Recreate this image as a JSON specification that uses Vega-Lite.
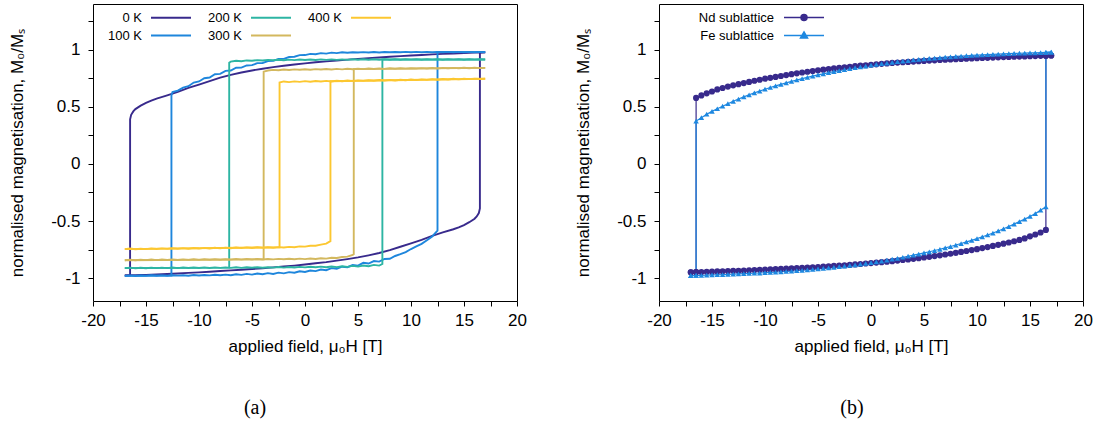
{
  "$schema": "https://vega.github.io/schema/vega-lite/v6.json",
  "background": "white",
  "padding": {"left": 8, "right": 5, "top": 3, "bottom": 0},
  "spacing": 47,
  "resolve": {
    "scale": {"color": "independent"},
    "legend": {"color": "independent"}
  },
  "config": {
    "font": "Liberation Sans",
    "view": {"stroke": "#000000", "strokeWidth": 1},
    "axis": {
      "domain": false, "grid": false, "ticks": true,
      "tickColor": "#000000", "tickSize": 5, "tickWidth": 1,
      "labelFont": "Liberation Sans", "labelFontSize": 17, "labelColor": "#000000",
      "labelFlush": false, "labelOverlap": false, "labelBound": false,
      "titleFont": "Liberation Sans", "titleFontSize": 17, "titleFontWeight": "normal", "titleColor": "#000000"
    },
    "axisX": {"labelPadding": 6, "titlePadding": 10},
    "axisY": {"labelPadding": 8, "titlePadding": 24},
    "legend": {"labelFont": "Liberation Sans", "labelFontSize": 13, "labelColor": "#000000", "padding": 0}
  },
  "datasets": {
    "loops": [
      {"T":"0 K","H":-17,"u":-0.977,"l":-0.977},
      {"T":"0 K","H":-16.501,"u":-0.975},
      {"T":"0 K","H":-16.5,"u":0.39,"l":-0.975},
      {"T":"0 K","H":-16.4,"u":0.43,"l":-0.975},
      {"T":"0 K","H":-16.2,"u":0.46,"l":-0.975},
      {"T":"0 K","H":-16,"u":0.48,"l":-0.974},
      {"T":"0 K","H":-15.5,"u":0.51,"l":-0.972},
      {"T":"0 K","H":-15,"u":0.535,"l":-0.971},
      {"T":"0 K","H":-14.5,"u":0.555,"l":-0.969},
      {"T":"0 K","H":-14,"u":0.572,"l":-0.967},
      {"T":"0 K","H":-13,"u":0.6,"l":-0.963},
      {"T":"0 K","H":-12,"u":0.63,"l":-0.959},
      {"T":"0 K","H":-11,"u":0.665,"l":-0.954},
      {"T":"0 K","H":-10,"u":0.695,"l":-0.949},
      {"T":"0 K","H":-9,"u":0.725,"l":-0.944},
      {"T":"0 K","H":-8,"u":0.755,"l":-0.938},
      {"T":"0 K","H":-7,"u":0.78,"l":-0.932},
      {"T":"0 K","H":-6,"u":0.8,"l":-0.926},
      {"T":"0 K","H":-5,"u":0.818,"l":-0.92},
      {"T":"0 K","H":-4,"u":0.833,"l":-0.913},
      {"T":"0 K","H":-3,"u":0.847,"l":-0.906},
      {"T":"0 K","H":-2,"u":0.86,"l":-0.898},
      {"T":"0 K","H":-1,"u":0.87,"l":-0.89},
      {"T":"0 K","H":0,"u":0.88,"l":-0.88},
      {"T":"0 K","H":1,"u":0.89,"l":-0.87},
      {"T":"0 K","H":2,"u":0.898,"l":-0.86},
      {"T":"0 K","H":3,"u":0.906,"l":-0.847},
      {"T":"0 K","H":4,"u":0.913,"l":-0.833},
      {"T":"0 K","H":5,"u":0.92,"l":-0.818},
      {"T":"0 K","H":6,"u":0.926,"l":-0.8},
      {"T":"0 K","H":7,"u":0.932,"l":-0.78},
      {"T":"0 K","H":8,"u":0.938,"l":-0.755},
      {"T":"0 K","H":9,"u":0.944,"l":-0.725},
      {"T":"0 K","H":10,"u":0.949,"l":-0.695},
      {"T":"0 K","H":11,"u":0.954,"l":-0.665},
      {"T":"0 K","H":12,"u":0.959,"l":-0.63},
      {"T":"0 K","H":13,"u":0.963,"l":-0.6},
      {"T":"0 K","H":14,"u":0.967,"l":-0.572},
      {"T":"0 K","H":14.5,"u":0.969,"l":-0.555},
      {"T":"0 K","H":15,"u":0.971,"l":-0.535},
      {"T":"0 K","H":15.5,"u":0.972,"l":-0.51},
      {"T":"0 K","H":16,"u":0.974,"l":-0.48},
      {"T":"0 K","H":16.2,"u":0.975,"l":-0.46},
      {"T":"0 K","H":16.4,"u":0.975,"l":-0.43},
      {"T":"0 K","H":16.5,"u":0.975,"l":-0.39},
      {"T":"0 K","H":16.501,"l":0.975},
      {"T":"0 K","H":17,"u":0.977,"l":0.977},

      {"T":"100 K","H":-17,"u":-0.98,"l":-0.98},
      {"T":"100 K","H":-16.5,"l":-0.976},
      {"T":"100 K","H":-16,"l":-0.981},
      {"T":"100 K","H":-15.5,"l":-0.977},
      {"T":"100 K","H":-15,"l":-0.98},
      {"T":"100 K","H":-14.5,"l":-0.975},
      {"T":"100 K","H":-14,"l":-0.979},
      {"T":"100 K","H":-13.5,"l":-0.976},
      {"T":"100 K","H":-13,"l":-0.98},
      {"T":"100 K","H":-12.601,"u":-0.977},
      {"T":"100 K","H":-12.6,"u":0.6},
      {"T":"100 K","H":-12.5,"u":0.63,"l":-0.975},
      {"T":"100 K","H":-12,"u":0.642,"l":-0.978},
      {"T":"100 K","H":-11.5,"u":0.668,"l":-0.974},
      {"T":"100 K","H":-11,"u":0.68,"l":-0.979},
      {"T":"100 K","H":-10.5,"u":0.712,"l":-0.973},
      {"T":"100 K","H":-10,"u":0.722,"l":-0.977},
      {"T":"100 K","H":-9.5,"u":0.75,"l":-0.972},
      {"T":"100 K","H":-9,"u":0.756,"l":-0.976},
      {"T":"100 K","H":-8.5,"u":0.785,"l":-0.97},
      {"T":"100 K","H":-8,"u":0.788,"l":-0.975},
      {"T":"100 K","H":-7.5,"u":0.815,"l":-0.969},
      {"T":"100 K","H":-7,"u":0.818,"l":-0.974},
      {"T":"100 K","H":-6.5,"u":0.842,"l":-0.966},
      {"T":"100 K","H":-6,"u":0.843,"l":-0.971},
      {"T":"100 K","H":-5.5,"u":0.862,"l":-0.963},
      {"T":"100 K","H":-5,"u":0.865,"l":-0.969},
      {"T":"100 K","H":-4.5,"u":0.882,"l":-0.96},
      {"T":"100 K","H":-4,"u":0.884,"l":-0.966},
      {"T":"100 K","H":-3.5,"u":0.9,"l":-0.956},
      {"T":"100 K","H":-3,"u":0.902,"l":-0.963},
      {"T":"100 K","H":-2.5,"u":0.918,"l":-0.952},
      {"T":"100 K","H":-2,"u":0.92,"l":-0.958},
      {"T":"100 K","H":-1.5,"u":0.936,"l":-0.947},
      {"T":"100 K","H":-1,"u":0.938,"l":-0.953},
      {"T":"100 K","H":-0.5,"u":0.952,"l":-0.94},
      {"T":"100 K","H":0,"u":0.953,"l":-0.946},
      {"T":"100 K","H":0.5,"u":0.963,"l":-0.933},
      {"T":"100 K","H":1,"u":0.96,"l":-0.938},
      {"T":"100 K","H":1.5,"u":0.97,"l":-0.924},
      {"T":"100 K","H":2,"u":0.966,"l":-0.93},
      {"T":"100 K","H":2.5,"u":0.974,"l":-0.912},
      {"T":"100 K","H":3,"u":0.97,"l":-0.918},
      {"T":"100 K","H":3.5,"u":0.977,"l":-0.9},
      {"T":"100 K","H":4,"u":0.973,"l":-0.904},
      {"T":"100 K","H":4.5,"u":0.978,"l":-0.885},
      {"T":"100 K","H":5,"u":0.975,"l":-0.89},
      {"T":"100 K","H":5.5,"u":0.979,"l":-0.866},
      {"T":"100 K","H":6,"u":0.976,"l":-0.872},
      {"T":"100 K","H":6.5,"u":0.98,"l":-0.85},
      {"T":"100 K","H":7,"u":0.976,"l":-0.855},
      {"T":"100 K","H":7.5,"u":0.98,"l":-0.832},
      {"T":"100 K","H":8,"u":0.977,"l":-0.83},
      {"T":"100 K","H":8.5,"u":0.98,"l":-0.806},
      {"T":"100 K","H":9,"u":0.977,"l":-0.79},
      {"T":"100 K","H":9.5,"u":0.981,"l":-0.772},
      {"T":"100 K","H":10,"u":0.977,"l":-0.745},
      {"T":"100 K","H":10.5,"u":0.981,"l":-0.722},
      {"T":"100 K","H":11,"u":0.978,"l":-0.7},
      {"T":"100 K","H":11.5,"u":0.981,"l":-0.668},
      {"T":"100 K","H":12,"u":0.978,"l":-0.635},
      {"T":"100 K","H":12.5,"u":0.981,"l":-0.585},
      {"T":"100 K","H":12.501,"l":0.981},
      {"T":"100 K","H":13,"u":0.978},
      {"T":"100 K","H":13.5,"u":0.981},
      {"T":"100 K","H":14,"u":0.978},
      {"T":"100 K","H":14.5,"u":0.981},
      {"T":"100 K","H":15,"u":0.978},
      {"T":"100 K","H":15.5,"u":0.981},
      {"T":"100 K","H":16,"u":0.978},
      {"T":"100 K","H":16.5,"u":0.981},
      {"T":"100 K","H":17,"u":0.979,"l":0.979},

      {"T":"200 K","H":-17,"u":-0.912,"l":-0.912},
      {"T":"200 K","H":-16.5,"l":-0.908},
      {"T":"200 K","H":-16,"l":-0.913},
      {"T":"200 K","H":-15.5,"l":-0.909},
      {"T":"200 K","H":-15,"l":-0.913},
      {"T":"200 K","H":-14.5,"l":-0.908},
      {"T":"200 K","H":-14,"l":-0.912},
      {"T":"200 K","H":-13.5,"l":-0.908},
      {"T":"200 K","H":-13,"l":-0.912},
      {"T":"200 K","H":-12.5,"l":-0.907},
      {"T":"200 K","H":-12,"l":-0.912},
      {"T":"200 K","H":-11.5,"l":-0.907},
      {"T":"200 K","H":-11,"l":-0.911},
      {"T":"200 K","H":-10.5,"l":-0.907},
      {"T":"200 K","H":-10,"l":-0.911},
      {"T":"200 K","H":-9.5,"l":-0.906},
      {"T":"200 K","H":-9,"l":-0.911},
      {"T":"200 K","H":-8.5,"l":-0.906},
      {"T":"200 K","H":-8,"l":-0.91},
      {"T":"200 K","H":-7.5,"l":-0.906},
      {"T":"200 K","H":-7.151,"u":-0.908},
      {"T":"200 K","H":-7.15,"u":0.885},
      {"T":"200 K","H":-7,"u":0.896,"l":-0.91},
      {"T":"200 K","H":-6.5,"u":0.903,"l":-0.905},
      {"T":"200 K","H":-6,"u":0.899,"l":-0.91},
      {"T":"200 K","H":-5.5,"u":0.906,"l":-0.905},
      {"T":"200 K","H":-5,"u":0.903,"l":-0.909},
      {"T":"200 K","H":-4.5,"u":0.909,"l":-0.904},
      {"T":"200 K","H":-4,"u":0.905,"l":-0.909},
      {"T":"200 K","H":-3.5,"u":0.911,"l":-0.904},
      {"T":"200 K","H":-3,"u":0.907,"l":-0.908},
      {"T":"200 K","H":-2.5,"u":0.912,"l":-0.903},
      {"T":"200 K","H":-2,"u":0.908,"l":-0.908},
      {"T":"200 K","H":-1.5,"u":0.913,"l":-0.902},
      {"T":"200 K","H":-1,"u":0.909,"l":-0.907},
      {"T":"200 K","H":-0.5,"u":0.914,"l":-0.901},
      {"T":"200 K","H":0,"u":0.91,"l":-0.906},
      {"T":"200 K","H":0.5,"u":0.914,"l":-0.9},
      {"T":"200 K","H":1,"u":0.91,"l":-0.905},
      {"T":"200 K","H":1.5,"u":0.915,"l":-0.899},
      {"T":"200 K","H":2,"u":0.911,"l":-0.904},
      {"T":"200 K","H":2.5,"u":0.915,"l":-0.898},
      {"T":"200 K","H":3,"u":0.911,"l":-0.903},
      {"T":"200 K","H":3.5,"u":0.915,"l":-0.896},
      {"T":"200 K","H":4,"u":0.911,"l":-0.901},
      {"T":"200 K","H":4.5,"u":0.916,"l":-0.893},
      {"T":"200 K","H":5,"u":0.912,"l":-0.899},
      {"T":"200 K","H":5.5,"u":0.916,"l":-0.889},
      {"T":"200 K","H":6,"u":0.912,"l":-0.896},
      {"T":"200 K","H":6.5,"u":0.916,"l":-0.884},
      {"T":"200 K","H":7,"u":0.912,"l":-0.89},
      {"T":"200 K","H":7.3,"l":-0.876},
      {"T":"200 K","H":7.301,"l":0.914},
      {"T":"200 K","H":7.5,"u":0.916},
      {"T":"200 K","H":8,"u":0.912},
      {"T":"200 K","H":8.5,"u":0.916},
      {"T":"200 K","H":9,"u":0.912},
      {"T":"200 K","H":9.5,"u":0.916},
      {"T":"200 K","H":10,"u":0.913},
      {"T":"200 K","H":10.5,"u":0.916},
      {"T":"200 K","H":11,"u":0.912},
      {"T":"200 K","H":11.5,"u":0.916},
      {"T":"200 K","H":12,"u":0.913},
      {"T":"200 K","H":12.5,"u":0.916},
      {"T":"200 K","H":13,"u":0.912},
      {"T":"200 K","H":13.5,"u":0.916},
      {"T":"200 K","H":14,"u":0.913},
      {"T":"200 K","H":14.5,"u":0.916},
      {"T":"200 K","H":15,"u":0.912},
      {"T":"200 K","H":15.5,"u":0.916},
      {"T":"200 K","H":16,"u":0.913},
      {"T":"200 K","H":16.5,"u":0.916},
      {"T":"200 K","H":17,"u":0.914,"l":0.914},

      {"T":"300 K","H":-17,"u":-0.843,"l":-0.843},
      {"T":"300 K","H":-16.5,"l":-0.838},
      {"T":"300 K","H":-16,"l":-0.843},
      {"T":"300 K","H":-15.5,"l":-0.838},
      {"T":"300 K","H":-15,"l":-0.842},
      {"T":"300 K","H":-14.5,"l":-0.837},
      {"T":"300 K","H":-14,"l":-0.842},
      {"T":"300 K","H":-13.5,"l":-0.837},
      {"T":"300 K","H":-13,"l":-0.841},
      {"T":"300 K","H":-12.5,"l":-0.836},
      {"T":"300 K","H":-12,"l":-0.841},
      {"T":"300 K","H":-11.5,"l":-0.836},
      {"T":"300 K","H":-11,"l":-0.84},
      {"T":"300 K","H":-10.5,"l":-0.835},
      {"T":"300 K","H":-10,"l":-0.84},
      {"T":"300 K","H":-9.5,"l":-0.835},
      {"T":"300 K","H":-9,"l":-0.839},
      {"T":"300 K","H":-8.5,"l":-0.834},
      {"T":"300 K","H":-8,"l":-0.839},
      {"T":"300 K","H":-7.5,"l":-0.834},
      {"T":"300 K","H":-7,"l":-0.838},
      {"T":"300 K","H":-6.5,"l":-0.833},
      {"T":"300 K","H":-6,"l":-0.838},
      {"T":"300 K","H":-5.5,"l":-0.833},
      {"T":"300 K","H":-5,"l":-0.837},
      {"T":"300 K","H":-4.5,"l":-0.832},
      {"T":"300 K","H":-4,"l":-0.837},
      {"T":"300 K","H":-3.901,"u":-0.835},
      {"T":"300 K","H":-3.9,"u":0.808},
      {"T":"300 K","H":-3.5,"u":0.818,"l":-0.832},
      {"T":"300 K","H":-3,"u":0.823,"l":-0.836},
      {"T":"300 K","H":-2.5,"u":0.82,"l":-0.831},
      {"T":"300 K","H":-2,"u":0.826,"l":-0.835},
      {"T":"300 K","H":-1.5,"u":0.822,"l":-0.83},
      {"T":"300 K","H":-1,"u":0.828,"l":-0.834},
      {"T":"300 K","H":-0.5,"u":0.824,"l":-0.829},
      {"T":"300 K","H":0,"u":0.829,"l":-0.833},
      {"T":"300 K","H":0.5,"u":0.825,"l":-0.828},
      {"T":"300 K","H":1,"u":0.83,"l":-0.832},
      {"T":"300 K","H":1.5,"u":0.826,"l":-0.826},
      {"T":"300 K","H":2,"u":0.831,"l":-0.829},
      {"T":"300 K","H":2.5,"u":0.827,"l":-0.822},
      {"T":"300 K","H":3,"u":0.832,"l":-0.824},
      {"T":"300 K","H":3.5,"u":0.828,"l":-0.815},
      {"T":"300 K","H":4,"u":0.833,"l":-0.812},
      {"T":"300 K","H":4.5,"u":0.829,"l":-0.797},
      {"T":"300 K","H":4.6,"l":-0.79},
      {"T":"300 K","H":4.601,"l":0.83},
      {"T":"300 K","H":5,"u":0.834},
      {"T":"300 K","H":5.5,"u":0.83},
      {"T":"300 K","H":6,"u":0.835},
      {"T":"300 K","H":6.5,"u":0.831},
      {"T":"300 K","H":7,"u":0.836},
      {"T":"300 K","H":7.5,"u":0.832},
      {"T":"300 K","H":8,"u":0.837},
      {"T":"300 K","H":8.5,"u":0.833},
      {"T":"300 K","H":9,"u":0.838},
      {"T":"300 K","H":9.5,"u":0.834},
      {"T":"300 K","H":10,"u":0.838},
      {"T":"300 K","H":10.5,"u":0.835},
      {"T":"300 K","H":11,"u":0.839},
      {"T":"300 K","H":11.5,"u":0.835},
      {"T":"300 K","H":12,"u":0.84},
      {"T":"300 K","H":12.5,"u":0.836},
      {"T":"300 K","H":13,"u":0.841},
      {"T":"300 K","H":13.5,"u":0.837},
      {"T":"300 K","H":14,"u":0.841},
      {"T":"300 K","H":14.5,"u":0.838},
      {"T":"300 K","H":15,"u":0.842},
      {"T":"300 K","H":15.5,"u":0.838},
      {"T":"300 K","H":16,"u":0.843},
      {"T":"300 K","H":16.5,"u":0.839},
      {"T":"300 K","H":17,"u":0.841,"l":0.841},

      {"T":"400 K","H":-17,"u":-0.746,"l":-0.746},
      {"T":"400 K","H":-16.5,"l":-0.741},
      {"T":"400 K","H":-16,"l":-0.747},
      {"T":"400 K","H":-15.5,"l":-0.742},
      {"T":"400 K","H":-15,"l":-0.746},
      {"T":"400 K","H":-14.5,"l":-0.74},
      {"T":"400 K","H":-14,"l":-0.745},
      {"T":"400 K","H":-13.5,"l":-0.739},
      {"T":"400 K","H":-13,"l":-0.744},
      {"T":"400 K","H":-12.5,"l":-0.738},
      {"T":"400 K","H":-12,"l":-0.743},
      {"T":"400 K","H":-11.5,"l":-0.737},
      {"T":"400 K","H":-11,"l":-0.742},
      {"T":"400 K","H":-10.5,"l":-0.736},
      {"T":"400 K","H":-10,"l":-0.741},
      {"T":"400 K","H":-9.5,"l":-0.735},
      {"T":"400 K","H":-9,"l":-0.74},
      {"T":"400 K","H":-8.5,"l":-0.734},
      {"T":"400 K","H":-8,"l":-0.739},
      {"T":"400 K","H":-7.5,"l":-0.733},
      {"T":"400 K","H":-7,"l":-0.738},
      {"T":"400 K","H":-6.5,"l":-0.732},
      {"T":"400 K","H":-6,"l":-0.737},
      {"T":"400 K","H":-5.5,"l":-0.731},
      {"T":"400 K","H":-5,"l":-0.736},
      {"T":"400 K","H":-4.5,"l":-0.73},
      {"T":"400 K","H":-4,"l":-0.735},
      {"T":"400 K","H":-3.5,"l":-0.729},
      {"T":"400 K","H":-3,"l":-0.734},
      {"T":"400 K","H":-2.5,"l":-0.728},
      {"T":"400 K","H":-2.401,"u":-0.729},
      {"T":"400 K","H":-2.4,"u":0.712},
      {"T":"400 K","H":-2,"u":0.722,"l":-0.732},
      {"T":"400 K","H":-1.5,"u":0.716,"l":-0.726},
      {"T":"400 K","H":-1,"u":0.723,"l":-0.729},
      {"T":"400 K","H":-0.5,"u":0.718,"l":-0.722},
      {"T":"400 K","H":0,"u":0.725,"l":-0.724},
      {"T":"400 K","H":0.5,"u":0.72,"l":-0.716},
      {"T":"400 K","H":1,"u":0.726,"l":-0.716},
      {"T":"400 K","H":1.5,"u":0.721,"l":-0.706},
      {"T":"400 K","H":2,"u":0.727,"l":-0.698},
      {"T":"400 K","H":2.4,"l":-0.676},
      {"T":"400 K","H":2.401,"l":0.724},
      {"T":"400 K","H":2.5,"u":0.722},
      {"T":"400 K","H":3,"u":0.729},
      {"T":"400 K","H":3.5,"u":0.724},
      {"T":"400 K","H":4,"u":0.73},
      {"T":"400 K","H":4.5,"u":0.725},
      {"T":"400 K","H":5,"u":0.731},
      {"T":"400 K","H":5.5,"u":0.727},
      {"T":"400 K","H":6,"u":0.733},
      {"T":"400 K","H":6.5,"u":0.728},
      {"T":"400 K","H":7,"u":0.734},
      {"T":"400 K","H":7.5,"u":0.73},
      {"T":"400 K","H":8,"u":0.736},
      {"T":"400 K","H":8.5,"u":0.731},
      {"T":"400 K","H":9,"u":0.737},
      {"T":"400 K","H":9.5,"u":0.733},
      {"T":"400 K","H":10,"u":0.739},
      {"T":"400 K","H":10.5,"u":0.734},
      {"T":"400 K","H":11,"u":0.74},
      {"T":"400 K","H":11.5,"u":0.736},
      {"T":"400 K","H":12,"u":0.742},
      {"T":"400 K","H":12.5,"u":0.737},
      {"T":"400 K","H":13,"u":0.743},
      {"T":"400 K","H":13.5,"u":0.739},
      {"T":"400 K","H":14,"u":0.745},
      {"T":"400 K","H":14.5,"u":0.74},
      {"T":"400 K","H":15,"u":0.746},
      {"T":"400 K","H":15.5,"u":0.742},
      {"T":"400 K","H":16,"u":0.747},
      {"T":"400 K","H":16.5,"u":0.743},
      {"T":"400 K","H":17,"u":0.746,"l":0.746}
    ],
    "lattice": [
      {"s":"Nd sublattice","H":-17,"u":-0.949,"l":-0.949},
      {"s":"Nd sublattice","H":-16.501,"u":-0.947},
      {"s":"Nd sublattice","H":-16.5,"u":0.578,"l":-0.947},
      {"s":"Nd sublattice","H":-16,"u":0.6,"l":-0.946},
      {"s":"Nd sublattice","H":-15.5,"u":0.618,"l":-0.944},
      {"s":"Nd sublattice","H":-15,"u":0.634,"l":-0.943},
      {"s":"Nd sublattice","H":-14.5,"u":0.652,"l":-0.941},
      {"s":"Nd sublattice","H":-14,"u":0.665,"l":-0.94},
      {"s":"Nd sublattice","H":-13.5,"u":0.677,"l":-0.938},
      {"s":"Nd sublattice","H":-13,"u":0.688,"l":-0.936},
      {"s":"Nd sublattice","H":-12.5,"u":0.698,"l":-0.935},
      {"s":"Nd sublattice","H":-12,"u":0.708,"l":-0.933},
      {"s":"Nd sublattice","H":-11.5,"u":0.718,"l":-0.931},
      {"s":"Nd sublattice","H":-11,"u":0.728,"l":-0.929},
      {"s":"Nd sublattice","H":-10.5,"u":0.737,"l":-0.927},
      {"s":"Nd sublattice","H":-10,"u":0.746,"l":-0.925},
      {"s":"Nd sublattice","H":-9.5,"u":0.754,"l":-0.923},
      {"s":"Nd sublattice","H":-9,"u":0.762,"l":-0.921},
      {"s":"Nd sublattice","H":-8.5,"u":0.77,"l":-0.919},
      {"s":"Nd sublattice","H":-8,"u":0.778,"l":-0.917},
      {"s":"Nd sublattice","H":-7.5,"u":0.786,"l":-0.915},
      {"s":"Nd sublattice","H":-7,"u":0.793,"l":-0.912},
      {"s":"Nd sublattice","H":-6.5,"u":0.8,"l":-0.91},
      {"s":"Nd sublattice","H":-6,"u":0.807,"l":-0.907},
      {"s":"Nd sublattice","H":-5.5,"u":0.813,"l":-0.905},
      {"s":"Nd sublattice","H":-5,"u":0.819,"l":-0.902},
      {"s":"Nd sublattice","H":-4.5,"u":0.825,"l":-0.899},
      {"s":"Nd sublattice","H":-4,"u":0.831,"l":-0.896},
      {"s":"Nd sublattice","H":-3.5,"u":0.836,"l":-0.893},
      {"s":"Nd sublattice","H":-3,"u":0.841,"l":-0.89},
      {"s":"Nd sublattice","H":-2.5,"u":0.846,"l":-0.887},
      {"s":"Nd sublattice","H":-2,"u":0.851,"l":-0.884},
      {"s":"Nd sublattice","H":-1.5,"u":0.856,"l":-0.88},
      {"s":"Nd sublattice","H":-1,"u":0.86,"l":-0.876},
      {"s":"Nd sublattice","H":-0.5,"u":0.864,"l":-0.872},
      {"s":"Nd sublattice","H":0,"u":0.868,"l":-0.868},
      {"s":"Nd sublattice","H":0.5,"u":0.872,"l":-0.864},
      {"s":"Nd sublattice","H":1,"u":0.876,"l":-0.86},
      {"s":"Nd sublattice","H":1.5,"u":0.88,"l":-0.856},
      {"s":"Nd sublattice","H":2,"u":0.884,"l":-0.851},
      {"s":"Nd sublattice","H":2.5,"u":0.887,"l":-0.846},
      {"s":"Nd sublattice","H":3,"u":0.89,"l":-0.841},
      {"s":"Nd sublattice","H":3.5,"u":0.893,"l":-0.836},
      {"s":"Nd sublattice","H":4,"u":0.896,"l":-0.831},
      {"s":"Nd sublattice","H":4.5,"u":0.899,"l":-0.825},
      {"s":"Nd sublattice","H":5,"u":0.902,"l":-0.819},
      {"s":"Nd sublattice","H":5.5,"u":0.905,"l":-0.813},
      {"s":"Nd sublattice","H":6,"u":0.907,"l":-0.807},
      {"s":"Nd sublattice","H":6.5,"u":0.91,"l":-0.8},
      {"s":"Nd sublattice","H":7,"u":0.912,"l":-0.793},
      {"s":"Nd sublattice","H":7.5,"u":0.915,"l":-0.786},
      {"s":"Nd sublattice","H":8,"u":0.917,"l":-0.778},
      {"s":"Nd sublattice","H":8.5,"u":0.919,"l":-0.77},
      {"s":"Nd sublattice","H":9,"u":0.921,"l":-0.762},
      {"s":"Nd sublattice","H":9.5,"u":0.923,"l":-0.754},
      {"s":"Nd sublattice","H":10,"u":0.925,"l":-0.746},
      {"s":"Nd sublattice","H":10.5,"u":0.927,"l":-0.737},
      {"s":"Nd sublattice","H":11,"u":0.929,"l":-0.728},
      {"s":"Nd sublattice","H":11.5,"u":0.931,"l":-0.718},
      {"s":"Nd sublattice","H":12,"u":0.933,"l":-0.708},
      {"s":"Nd sublattice","H":12.5,"u":0.935,"l":-0.698},
      {"s":"Nd sublattice","H":13,"u":0.936,"l":-0.688},
      {"s":"Nd sublattice","H":13.5,"u":0.938,"l":-0.677},
      {"s":"Nd sublattice","H":14,"u":0.94,"l":-0.665},
      {"s":"Nd sublattice","H":14.5,"u":0.941,"l":-0.652},
      {"s":"Nd sublattice","H":15,"u":0.943,"l":-0.634},
      {"s":"Nd sublattice","H":15.5,"u":0.944,"l":-0.618},
      {"s":"Nd sublattice","H":16,"u":0.946,"l":-0.6},
      {"s":"Nd sublattice","H":16.5,"u":0.947,"l":-0.578},
      {"s":"Nd sublattice","H":16.501,"l":0.947},
      {"s":"Nd sublattice","H":17,"u":0.949,"l":0.949},

      {"s":"Fe sublattice","H":-17,"u":-0.978,"l":-0.978},
      {"s":"Fe sublattice","H":-16.501,"u":-0.976},
      {"s":"Fe sublattice","H":-16.5,"u":0.375,"l":-0.976},
      {"s":"Fe sublattice","H":-16,"u":0.405,"l":-0.975},
      {"s":"Fe sublattice","H":-15.5,"u":0.435,"l":-0.973},
      {"s":"Fe sublattice","H":-15,"u":0.46,"l":-0.972},
      {"s":"Fe sublattice","H":-14.5,"u":0.483,"l":-0.97},
      {"s":"Fe sublattice","H":-14,"u":0.505,"l":-0.969},
      {"s":"Fe sublattice","H":-13.5,"u":0.527,"l":-0.967},
      {"s":"Fe sublattice","H":-13,"u":0.548,"l":-0.965},
      {"s":"Fe sublattice","H":-12.5,"u":0.568,"l":-0.963},
      {"s":"Fe sublattice","H":-12,"u":0.587,"l":-0.961},
      {"s":"Fe sublattice","H":-11.5,"u":0.605,"l":-0.959},
      {"s":"Fe sublattice","H":-11,"u":0.622,"l":-0.957},
      {"s":"Fe sublattice","H":-10.5,"u":0.638,"l":-0.955},
      {"s":"Fe sublattice","H":-10,"u":0.654,"l":-0.952},
      {"s":"Fe sublattice","H":-9.5,"u":0.669,"l":-0.95},
      {"s":"Fe sublattice","H":-9,"u":0.683,"l":-0.947},
      {"s":"Fe sublattice","H":-8.5,"u":0.697,"l":-0.944},
      {"s":"Fe sublattice","H":-8,"u":0.71,"l":-0.941},
      {"s":"Fe sublattice","H":-7.5,"u":0.723,"l":-0.938},
      {"s":"Fe sublattice","H":-7,"u":0.735,"l":-0.935},
      {"s":"Fe sublattice","H":-6.5,"u":0.747,"l":-0.931},
      {"s":"Fe sublattice","H":-6,"u":0.758,"l":-0.927},
      {"s":"Fe sublattice","H":-5.5,"u":0.769,"l":-0.923},
      {"s":"Fe sublattice","H":-5,"u":0.779,"l":-0.919},
      {"s":"Fe sublattice","H":-4.5,"u":0.789,"l":-0.915},
      {"s":"Fe sublattice","H":-4,"u":0.799,"l":-0.91},
      {"s":"Fe sublattice","H":-3.5,"u":0.808,"l":-0.905},
      {"s":"Fe sublattice","H":-3,"u":0.817,"l":-0.9},
      {"s":"Fe sublattice","H":-2.5,"u":0.826,"l":-0.895},
      {"s":"Fe sublattice","H":-2,"u":0.834,"l":-0.889},
      {"s":"Fe sublattice","H":-1.5,"u":0.842,"l":-0.883},
      {"s":"Fe sublattice","H":-1,"u":0.85,"l":-0.877},
      {"s":"Fe sublattice","H":-0.5,"u":0.857,"l":-0.871},
      {"s":"Fe sublattice","H":0,"u":0.864,"l":-0.864},
      {"s":"Fe sublattice","H":0.5,"u":0.871,"l":-0.857},
      {"s":"Fe sublattice","H":1,"u":0.877,"l":-0.85},
      {"s":"Fe sublattice","H":1.5,"u":0.883,"l":-0.842},
      {"s":"Fe sublattice","H":2,"u":0.889,"l":-0.834},
      {"s":"Fe sublattice","H":2.5,"u":0.895,"l":-0.826},
      {"s":"Fe sublattice","H":3,"u":0.9,"l":-0.817},
      {"s":"Fe sublattice","H":3.5,"u":0.905,"l":-0.808},
      {"s":"Fe sublattice","H":4,"u":0.91,"l":-0.799},
      {"s":"Fe sublattice","H":4.5,"u":0.915,"l":-0.789},
      {"s":"Fe sublattice","H":5,"u":0.919,"l":-0.779},
      {"s":"Fe sublattice","H":5.5,"u":0.923,"l":-0.769},
      {"s":"Fe sublattice","H":6,"u":0.927,"l":-0.758},
      {"s":"Fe sublattice","H":6.5,"u":0.931,"l":-0.747},
      {"s":"Fe sublattice","H":7,"u":0.935,"l":-0.735},
      {"s":"Fe sublattice","H":7.5,"u":0.938,"l":-0.723},
      {"s":"Fe sublattice","H":8,"u":0.941,"l":-0.71},
      {"s":"Fe sublattice","H":8.5,"u":0.944,"l":-0.697},
      {"s":"Fe sublattice","H":9,"u":0.947,"l":-0.683},
      {"s":"Fe sublattice","H":9.5,"u":0.95,"l":-0.669},
      {"s":"Fe sublattice","H":10,"u":0.952,"l":-0.654},
      {"s":"Fe sublattice","H":10.5,"u":0.955,"l":-0.638},
      {"s":"Fe sublattice","H":11,"u":0.957,"l":-0.622},
      {"s":"Fe sublattice","H":11.5,"u":0.959,"l":-0.605},
      {"s":"Fe sublattice","H":12,"u":0.961,"l":-0.587},
      {"s":"Fe sublattice","H":12.5,"u":0.963,"l":-0.568},
      {"s":"Fe sublattice","H":13,"u":0.965,"l":-0.548},
      {"s":"Fe sublattice","H":13.5,"u":0.967,"l":-0.527},
      {"s":"Fe sublattice","H":14,"u":0.969,"l":-0.505},
      {"s":"Fe sublattice","H":14.5,"u":0.97,"l":-0.483},
      {"s":"Fe sublattice","H":15,"u":0.972,"l":-0.46},
      {"s":"Fe sublattice","H":15.5,"u":0.973,"l":-0.435},
      {"s":"Fe sublattice","H":16,"u":0.975,"l":-0.405},
      {"s":"Fe sublattice","H":16.5,"u":0.976,"l":-0.375},
      {"s":"Fe sublattice","H":16.501,"l":0.976},
      {"s":"Fe sublattice","H":17,"u":0.978,"l":0.978}
    ]
  },
  "hconcat": [
    {
      "width": 424,
      "height": 297,
      "title": {"text": "(a)", "orient": "bottom", "frame": "group", "anchor": "middle", "dx": -50, "offset": 44, "font": "Liberation Serif", "fontSize": 20, "fontWeight": "normal", "color": "#000000"},
      "data": {"name": "loops"},
      "transform": [
        {"fold": ["u", "l"], "as": ["branch", "M"]},
        {"filter": "isValid(datum.M)"}
      ],
      "mark": {"type": "line", "strokeWidth": 1.9, "clip": true},
      "encoding": {
        "x": {
          "field": "H", "type": "quantitative",
          "scale": {"domain": [-20, 20], "nice": false, "zero": false},
          "axis": {
            "title": "applied field, μ₀H [T]",
            "values": [-20, -17.5, -15, -12.5, -10, -7.5, -5, -2.5, 0, 2.5, 5, 7.5, 10, 12.5, 15, 17.5, 20],
            "labelExpr": "datum.value % 5 === 0 ? toString(datum.value) : ''"
          }
        },
        "y": {
          "field": "M", "type": "quantitative",
          "scale": {"domain": [-1.2, 1.4], "nice": false, "zero": false},
          "axis": {
            "title": "normalised magnetisation, M₀/Mₛ",
            "values": [-1.25, -1, -0.75, -0.5, -0.25, 0, 0.25, 0.5, 0.75, 1, 1.25],
            "labelExpr": "datum.value % 0.5 === 0 ? toString(datum.value) : ''"
          }
        },
        "color": {
          "field": "T", "type": "nominal",
          "scale": {
            "domain": ["0 K", "100 K", "200 K", "300 K", "400 K"],
            "range": ["#382a8c", "#1e86dc", "#2db5a3", "#d3b85e", "#fcc730"]
          },
          "legend": {
            "orient": "none", "legendX": 58, "legendY": 7, "title": null,
            "direction": "vertical", "columns": 3,
            "symbolType": "M-1.3,0L6.7,0", "symbolSize": 100, "symbolStrokeWidth": 2,
            "labelAlign": "right", "labelOffset": -22,
            "rowPadding": 4, "columnPadding": 13
          }
        },
        "detail": {"field": "branch"}
      }
    },
    {
      "width": 424,
      "height": 297,
      "title": {"text": "(b)", "orient": "bottom", "frame": "group", "anchor": "middle", "dx": -19, "offset": 44, "font": "Liberation Serif", "fontSize": 20, "fontWeight": "normal", "color": "#000000"},
      "data": {"name": "lattice"},
      "transform": [
        {"fold": ["u", "l"], "as": ["branch", "M"]},
        {"filter": "isValid(datum.M)"}
      ],
      "encoding": {
        "x": {
          "field": "H", "type": "quantitative",
          "scale": {"domain": [-20, 20], "nice": false, "zero": false},
          "axis": {
            "title": "applied field, μ₀H [T]",
            "values": [-20, -17.5, -15, -12.5, -10, -7.5, -5, -2.5, 0, 2.5, 5, 7.5, 10, 12.5, 15, 17.5, 20],
            "labelExpr": "datum.value % 5 === 0 ? toString(datum.value) : ''"
          }
        },
        "y": {
          "field": "M", "type": "quantitative",
          "scale": {"domain": [-1.2, 1.4], "nice": false, "zero": false},
          "axis": {
            "title": "normalised magnetisation, M₀/Mₛ",
            "values": [-1.25, -1, -0.75, -0.5, -0.25, 0, 0.25, 0.5, 0.75, 1, 1.25],
            "labelExpr": "datum.value % 0.5 === 0 ? toString(datum.value) : ''"
          }
        },
        "color": {
          "field": "s", "type": "nominal",
          "scale": {"domain": ["Nd sublattice", "Fe sublattice"], "range": ["#382a8c", "#1e88e0"]},
          "legend": {
            "orient": "none", "legendX": 125, "legendY": 7, "title": null,
            "direction": "vertical",
            "symbolType": "M-1.3,0L6.7,0", "symbolSize": 100, "symbolStrokeWidth": 1.5,
            "labelAlign": "right", "labelOffset": -23, "rowPadding": 4,
            "encode": {
              "symbols": {
                "update": {
                  "shape": {"signal": "datum.value === 'Nd sublattice' ? 'M-1.3,0L6.7,0M2.1,0A0.6,0.6,0,1,1,3.3,0A0.6,0.6,0,1,1,2.1,0Z' : 'M-1.3,0L6.7,0M2.7,-0.7L3.4,0.5L2,0.5Z'"},
                  "size": {"value": 100},
                  "strokeWidth": {"value": 1.5},
                  "fill": {"signal": "datum.value === 'Nd sublattice' ? '#382a8c' : '#1e88e0'"},
                  "stroke": {"signal": "datum.value === 'Nd sublattice' ? '#382a8c' : '#1e88e0'"},
                  "opacity": {"value": 1}
                }
              }
            }
          }
        },
        "detail": {"field": "branch"}
      },
      "layer": [
        {"mark": {"type": "line", "strokeWidth": 1.2, "clip": true}},
        {
          "transform": [{"filter": {"field": "s", "equal": "Nd sublattice"}}],
          "mark": {"type": "point", "shape": "circle", "size": 38, "filled": true, "opacity": 1, "clip": true}
        },
        {
          "transform": [{"filter": {"field": "s", "equal": "Fe sublattice"}}],
          "mark": {"type": "point", "shape": "triangle-up", "size": 30, "filled": true, "opacity": 1, "clip": true}
        }
      ]
    }
  ]
}
